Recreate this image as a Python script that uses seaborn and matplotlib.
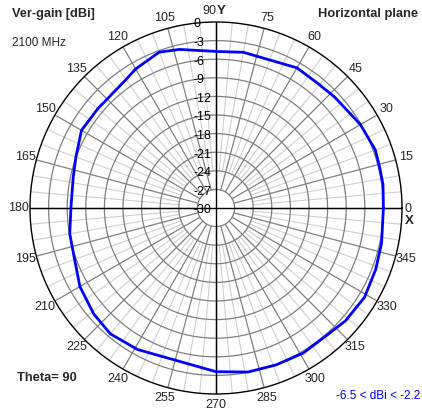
import numpy as np
import matplotlib
matplotlib.use("Agg")
import matplotlib.pyplot as plt
import seaborn as sns

# Pattern (angle in degrees, gain in dBi)
angles = [0, 8, 14, 20, 30, 43, 51, 60, 80, 90, 103, 110, 120, 125, 140, 150,
          160, 168, 180, 190, 197, 210, 221, 230, 241, 270, 281, 291, 301, 312,
          319, 329, 339, 348, 360]
gain = [-3.0, -2.8, -2.8, -2.65, -3.1, -3.8, -4.05, -3.9, -4.5, -4.75, -3.75,
        -3.25, -4.1, -4.7, -5.1, -4.95, -5.95, -6.45, -6.6, -6.05, -5.9, -4.65,
        -3.9, -3.5, -3.9, -3.6, -3.05, -2.9, -2.7, -2.75, -2.3, -2.05, -2.4,
        -2.7, -3.0]
ring_levels = [-30, -27, -24, -21, -18, -15, -12, -9, -6, -3, 0]
ring_labels = ["-30", "-27", "-24", "-21", "-18", "-15", "-12", "-9", "-6", "-3", "0"]
angle_ticks = list(range(0, 360, 15))

sns.set_style("white")
plt.rcParams["font.family"] = ["Liberation Sans", "DejaVu Sans"]

fig = plt.figure(figsize=(4.22, 4.16), dpi=100)
ax = fig.add_axes([30 / 422, 22 / 416, 372 / 422, 372 / 416], projection="polar")
ax.set_theta_zero_location("E")
ax.set_theta_direction(1)
ax.set_rlim(-30, 0)
ax.grid(False)
ax.set_xticks([])
ax.set_yticks([])
ax.spines["polar"].set_color("black")
ax.spines["polar"].set_linewidth(1.0)

full = np.linspace(0, 2 * np.pi, 721)
# light minor spokes every 5 degrees
for a in range(0, 360, 5):
    if a % 15:
        t = np.deg2rad(a)
        ax.plot([t, t], [-24, 0], color="#cfcfcf", lw=0.8, zorder=1)
# dark major spokes every 15 degrees
for a in angle_ticks:
    t = np.deg2rad(a)
    ax.plot([t, t], [-27, 0], color="#7f7f7f", lw=0.9, zorder=2)
# rings every 3 dB (outer one is the spine)
for lv in ring_levels[1:-1]:
    ax.plot(full, np.full_like(full, lv), color="#7f7f7f", lw=0.9, zorder=2)

# black axis lines through the centre
for t in [0, np.pi / 2]:
    ax.plot([t, t + np.pi], [0, 0], color="black", lw=1.0, zorder=3)

# antenna pattern
th = np.deg2rad(angles)
sns.lineplot(x=th, y=gain, ax=ax, sort=False, color="#0000ff", lw=2.0, zorder=5)
ax.set_xlabel("")
ax.set_ylabel("")
ax.set_rlim(-30, 0)

# radial labels along the vertical axis
for lv, lab in zip(ring_levels, ring_labels):
    ax.annotate(lab, xy=(np.pi / 2, lv), xytext=(-16, -1.8), textcoords="offset points",
                ha="left", va="center", fontsize=9, color="black", zorder=6)

# angle labels around the circle
for a in angle_ticks:
    if a in (0, 90):
        continue
    t = np.deg2rad(a)
    c, s = np.cos(t), np.sin(t)
    ax.annotate(str(a), xy=(t, 0), xytext=(c * 8, s * 8), textcoords="offset points",
                ha="center", va="center", fontsize=9, annotation_clip=False)

ax.annotate("90", xy=(np.pi / 2, 0), xytext=(0.5, 3.5), textcoords="offset points",
            ha="right", va="bottom", fontsize=9, annotation_clip=False)
ax.annotate("Y", xy=(np.pi / 2, 0), xytext=(0.5, 3.5), textcoords="offset points",
            ha="left", va="bottom", fontsize=9.5, fontweight="bold", annotation_clip=False)
ax.annotate("0", xy=(0, 0), xytext=(2, -1), textcoords="offset points",
            ha="left", va="center", fontsize=9, annotation_clip=False)
ax.annotate("X", xy=(0, 0), xytext=(2, -5), textcoords="offset points",
            ha="left", va="top", fontsize=9.5, fontweight="bold", annotation_clip=False)

fig.text(12 / 422, 1 - 8 / 416, "Ver-gain [dBi]", fontsize=9.2, fontweight="bold",
         ha="left", va="top")
fig.text(12 / 422, 1 - 37 / 416, "2100 MHz", fontsize=8.5, ha="left", va="top")
fig.text(418 / 422, 1 - 8 / 416, "Horizontal plane", fontsize=9.3, fontweight="bold",
         ha="right", va="top")
fig.text(17 / 422, 1 - 372 / 416, "Theta= 90", fontsize=9.3, fontweight="bold",
         ha="left", va="top")
fig.text(420 / 422, 1 - 390 / 416, "-6.5 < dBi < -2.2", fontsize=8.5, color="#0000ff",
         ha="right", va="top")

fig.savefig("out.png", dpi=100)
